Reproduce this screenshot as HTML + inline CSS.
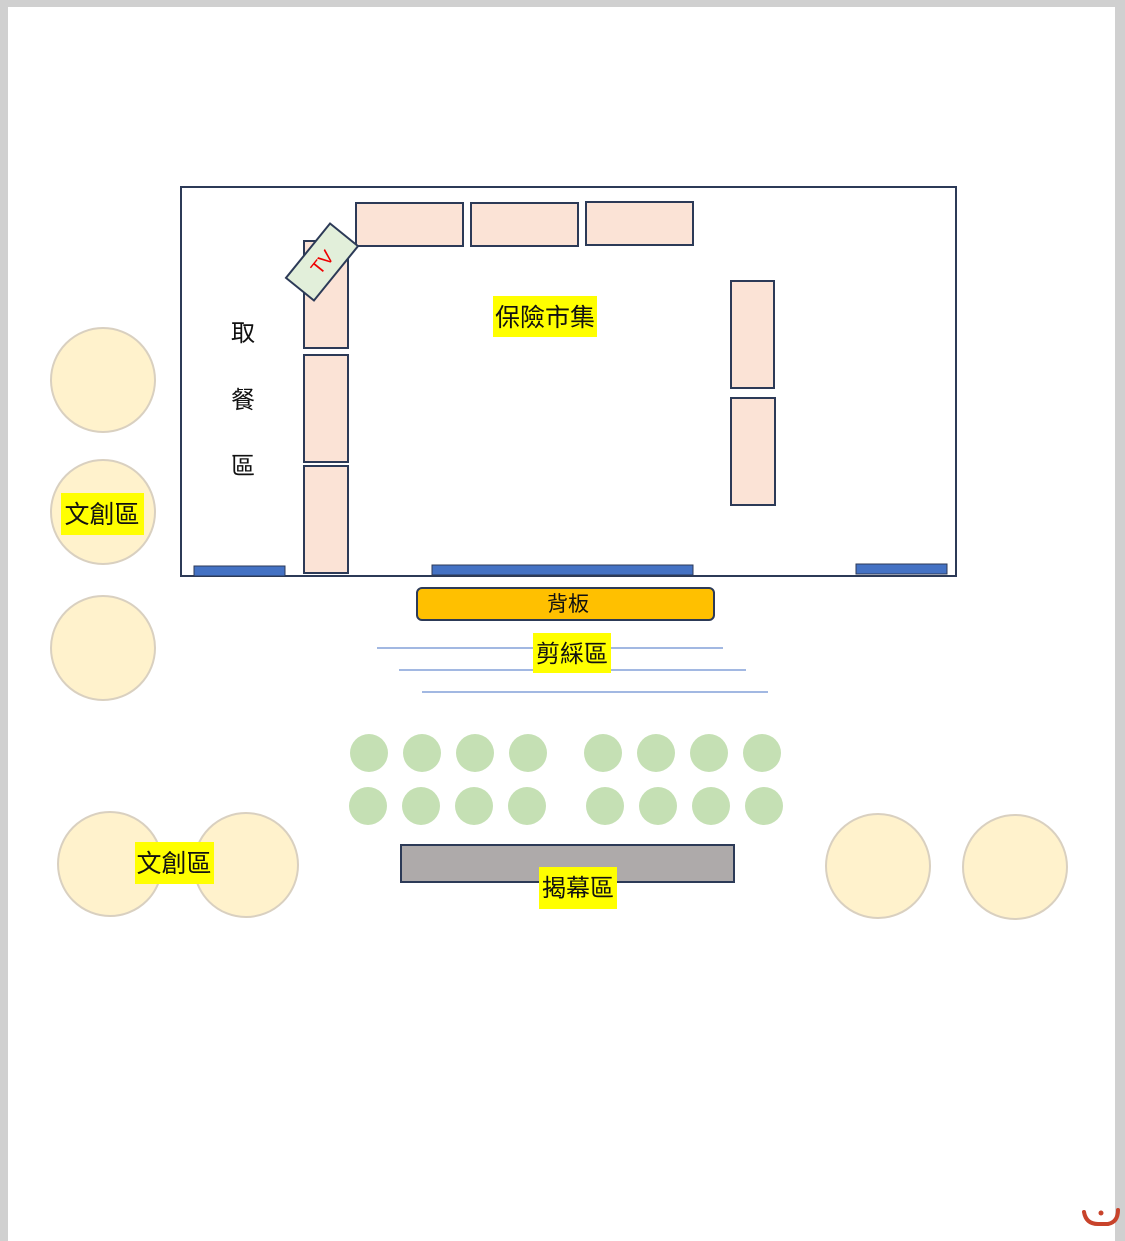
<!DOCTYPE html>
<html><head><meta charset="utf-8"><style>
body{margin:0;width:1125px;height:1241px;background:#d4d4d4;overflow:hidden;font-family:"Liberation Sans","Noto Sans CJK TC",sans-serif}
</style></head><body>
<svg width="1125" height="1241" xmlns="http://www.w3.org/2000/svg" style="position:absolute;left:0;top:0">
<rect x="0" y="0" width="1125" height="1241" fill="#d0d0d0"/>
<rect x="8" y="7" width="1107" height="1234" fill="#fff"/>
<g font-family="Liberation Sans, Noto Sans CJK TC, sans-serif">
<rect x="181" y="187" width="775" height="389" fill="#fff" stroke="#2c3a57" stroke-width="2"/>
<g fill="#fbe3d6" stroke="#2c3a57" stroke-width="2">
<rect x="356" y="203" width="107" height="43"/>
<rect x="471" y="203" width="107" height="43"/>
<rect x="586" y="202" width="107" height="43"/>
<rect x="304" y="241" width="44" height="107"/>
<rect x="304" y="355" width="44" height="107"/>
<rect x="304" y="466" width="44" height="107"/>
<rect x="731" y="281" width="43" height="107"/>
<rect x="731" y="398" width="44" height="107"/>
</g>
<g transform="translate(322,262) rotate(-51)">
<rect x="-35" y="-18" width="70" height="36" fill="#e2efda" stroke="#2c3a57" stroke-width="2"/>
<text x="0" y="7" font-size="19" fill="#e00" text-anchor="middle">TV</text>
</g>
<g fill="#4472c4" stroke="#2c3a57" stroke-width="1">
<rect x="194" y="566" width="91" height="10"/>
<rect x="432" y="565" width="261" height="10"/>
<rect x="856" y="564" width="91" height="10"/>
</g>
<text x="243" y="341" font-size="24" text-anchor="middle" fill="#111">取</text>
<text x="243" y="408" font-size="24" text-anchor="middle" fill="#111">餐</text>
<text x="243" y="474" font-size="24" text-anchor="middle" fill="#111">區</text>
<rect x="493" y="296" width="104" height="41" fill="#ffff00"/>
<text x="545" y="326" font-size="25" text-anchor="middle" fill="#111">保險市集</text>
<rect x="417" y="588" width="297" height="32" rx="5" fill="#ffc000" stroke="#2c3a57" stroke-width="2"/>
<text x="568" y="611" font-size="21" text-anchor="middle" fill="#111">背板</text>
<g stroke="#4472c4" stroke-width="1">
<line x1="377" y1="648" x2="723" y2="648"/>
<line x1="399" y1="670" x2="746" y2="670"/>
<line x1="422" y1="692" x2="768" y2="692"/>
</g>
<rect x="533" y="633" width="78" height="40" fill="#ffff00"/>
<text x="572" y="662" font-size="24" text-anchor="middle" fill="#111">剪綵區</text>
<g fill="#fff2cc" stroke="#d9d0c0" stroke-width="2">
<circle cx="103" cy="380" r="52"/>
<circle cx="103" cy="512" r="52"/>
<circle cx="103" cy="648" r="52"/>
<circle cx="110" cy="864" r="52"/>
<circle cx="246" cy="865" r="52"/>
<circle cx="878" cy="866" r="52"/>
<circle cx="1015" cy="867" r="52"/>
</g>
<rect x="61" y="493" width="83" height="42" fill="#ffff00"/>
<text x="102" y="523" font-size="25" text-anchor="middle" fill="#111">文創區</text>
<rect x="135" y="842" width="79" height="42" fill="#ffff00"/>
<text x="174" y="872" font-size="25" text-anchor="middle" fill="#111">文創區</text>
<g fill="#c5e0b4">
<circle cx="369" cy="753" r="19"/><circle cx="422" cy="753" r="19"/><circle cx="475" cy="753" r="19"/><circle cx="528" cy="753" r="19"/>
<circle cx="603" cy="753" r="19"/><circle cx="656" cy="753" r="19"/><circle cx="709" cy="753" r="19"/><circle cx="762" cy="753" r="19"/>
<circle cx="368" cy="806" r="19"/><circle cx="421" cy="806" r="19"/><circle cx="474" cy="806" r="19"/><circle cx="527" cy="806" r="19"/>
<circle cx="605" cy="806" r="19"/><circle cx="658" cy="806" r="19"/><circle cx="711" cy="806" r="19"/><circle cx="764" cy="806" r="19"/>
</g>
<rect x="401" y="845" width="333" height="37" fill="#aeaaaa" stroke="#2c3a57" stroke-width="2"/>
<rect x="539" y="867" width="78" height="42" fill="#ffff00"/>
<text x="578" y="896" font-size="24" text-anchor="middle" fill="#111">揭幕區</text>
<path d="M1084 1212 Q1086 1224 1098 1224 L1108 1224 Q1118 1222 1118 1210" fill="none" stroke="#c8432b" stroke-width="4" stroke-linecap="round"/>
<circle cx="1101" cy="1213" r="2.5" fill="#c8432b"/>
</g>
</svg>
</body></html>
